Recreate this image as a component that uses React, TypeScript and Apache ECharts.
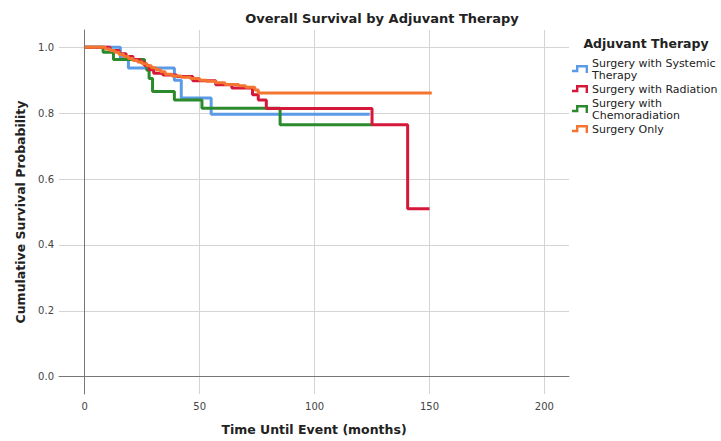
import React, { useEffect, useRef } from "react";
import * as echarts from "echarts";

const chartTitle = "Overall Survival by Adjuvant Therapy";
const legendTitle = "Adjuvant Therapy";
const xAxisName = "Time Until Event (months)";
const yAxisName = "Cumulative Survival Probability";
const seriesNames = [
  "Surgery with Systemic Therapy",
  "Surgery with Radiation",
  "Surgery with Chemoradiation",
  "Surgery Only",
];
const seriesColors = ["#5b9be6", "#d5173a", "#2b8a2b", "#f5742f"];
const xTicks = [0, 50, 100, 150, 200];
const yTicks = [0, 0.2, 0.4, 0.6, 0.8, 1.0];

const systemicTime = [0, 15.5, 19, 39, 42, 55, 124];
const systemicSurv = [1, 0.968, 0.937, 0.9, 0.846, 0.797, 0.797];

const radiationTime = [0, 11, 15, 18, 21, 24, 26, 28, 30, 34, 40, 47, 57, 64, 73, 75.5, 79, 125, 140.5, 150];
const radiationSurv = [1, 0.99, 0.98, 0.972, 0.963, 0.955, 0.945, 0.932, 0.921, 0.916, 0.911, 0.898, 0.886, 0.876, 0.856, 0.84, 0.814, 0.765, 0.51, 0.51];

const chemoTime = [0, 8, 12.5, 26, 27, 28, 29.5, 39, 51, 85, 125];
const chemoSurv = [1, 0.985, 0.963, 0.95, 0.93, 0.905, 0.866, 0.84, 0.815, 0.765, 0.765];

const onlyTime = [0, 9, 11, 13, 15, 17, 19, 21, 23, 25, 27, 29, 31, 33, 35, 38, 42, 46, 50, 53, 57, 61, 67, 70, 74, 75.5, 151];
const onlySurv = [1, 0.995, 0.99, 0.985, 0.978, 0.972, 0.966, 0.96, 0.955, 0.95, 0.944, 0.938, 0.932, 0.926, 0.918, 0.913, 0.909, 0.905, 0.9, 0.897, 0.892, 0.887, 0.883, 0.879, 0.87, 0.861, 0.861];

const seriesTimes = [systemicTime, radiationTime, chemoTime, onlyTime];
const seriesSurvs = [systemicSurv, radiationSurv, chemoSurv, onlySurv];
const seriesZ = [2, 4, 3, 5];

const legendLabels: Record<string, string> = {
  "Surgery with Systemic Therapy": "Surgery with Systemic\nTherapy",
  "Surgery with Chemoradiation": "Surgery with\nChemoradiation",
};

const FONT = "DejaVu Sans";

export default function App() {
  const ref = useRef<HTMLDivElement>(null);
  useEffect(() => {
    if (!ref.current) return;
    const chart = echarts.init(ref.current, null, { renderer: "svg" });
    const series = seriesNames.map((name, i) => ({
      name,
      type: "line",
      step: "end",
      showSymbol: false,
      symbol: "none",
      z: seriesZ[i],
      color: seriesColors[i],
      lineStyle: { width: 3, color: seriesColors[i] },
      data: seriesTimes[i].map((t, j) => [t, seriesSurvs[i][j]]),
    }));
    chart.setOption({
      animation: false,
      backgroundColor: "#ffffff",
      grid: { left: 59, right: 152, top: 30, bottom: 46, containLabel: false },
      graphic: [
        {
          type: "text",
          x: 382,
          y: 18,
          style: {
            text: chartTitle,
            font: `bold 13px "${FONT}"`,
            fill: "#222",
            textAlign: "center",
            textVerticalAlign: "middle",
          },
        },
        {
          type: "text",
          x: 646,
          y: 43,
          style: {
            text: legendTitle,
            font: `bold 12.5px "${FONT}"`,
            fill: "#222",
            textAlign: "center",
            textVerticalAlign: "middle",
          },
        },
      ],
      legend: {
        orient: "vertical",
        left: 567,
        top: 52,
        itemGap: 2,
        itemWidth: 22,
        itemHeight: 8,
        icon: "path://M0,6 L5,6 L5,0 L20,0 L20,10 L17,10 L17,3 L8,3 L8,9 L0,9 Z",
        data: seriesNames,
        formatter: (n: string) => legendLabels[n] || n,
        textStyle: { fontFamily: FONT, fontSize: 11, lineHeight: 12, color: "#222", padding: [0, 0, 0, -4] },
      },
      xAxis: {
        type: "value",
        min: -11.2,
        max: 210.7,
        name: xAxisName,
        nameLocation: "middle",
        nameGap: 29,
        nameTextStyle: { fontFamily: FONT, fontSize: 12.5, fontWeight: "bold", color: "#222" },
        axisLine: { show: true, lineStyle: { color: "#777", width: 1 } },
        axisTick: { show: false, customValues: xTicks },
        axisLabel: {
          customValues: xTicks,
          fontFamily: FONT,
          fontSize: 10,
          color: "#444",
          margin: 7,
        },
        splitLine: { show: true, lineStyle: { color: "#d4d4d4", width: 1 } },
      },
      yAxis: {
        type: "value",
        min: -0.0524,
        max: 1.0524,
        name: yAxisName,
        nameLocation: "middle",
        nameGap: 32,
        nameTextStyle: { fontFamily: FONT, fontSize: 12.5, fontWeight: "bold", color: "#222" },
        axisLine: { show: true, lineStyle: { color: "#777", width: 1 } },
        axisTick: { show: false, customValues: yTicks },
        axisLabel: {
          customValues: yTicks,
          formatter: (v: number) => v.toFixed(1),
          fontFamily: FONT,
          fontSize: 10,
          color: "#444",
          margin: 5,
        },
        splitLine: { show: true, lineStyle: { color: "#d4d4d4", width: 1 } },
      },
      series,
    });
    return () => chart.dispose();
  }, []);
  return <div ref={ref} style={{ position: "fixed", left: 0, top: 0, width: 721, height: 441 }} />;
}
